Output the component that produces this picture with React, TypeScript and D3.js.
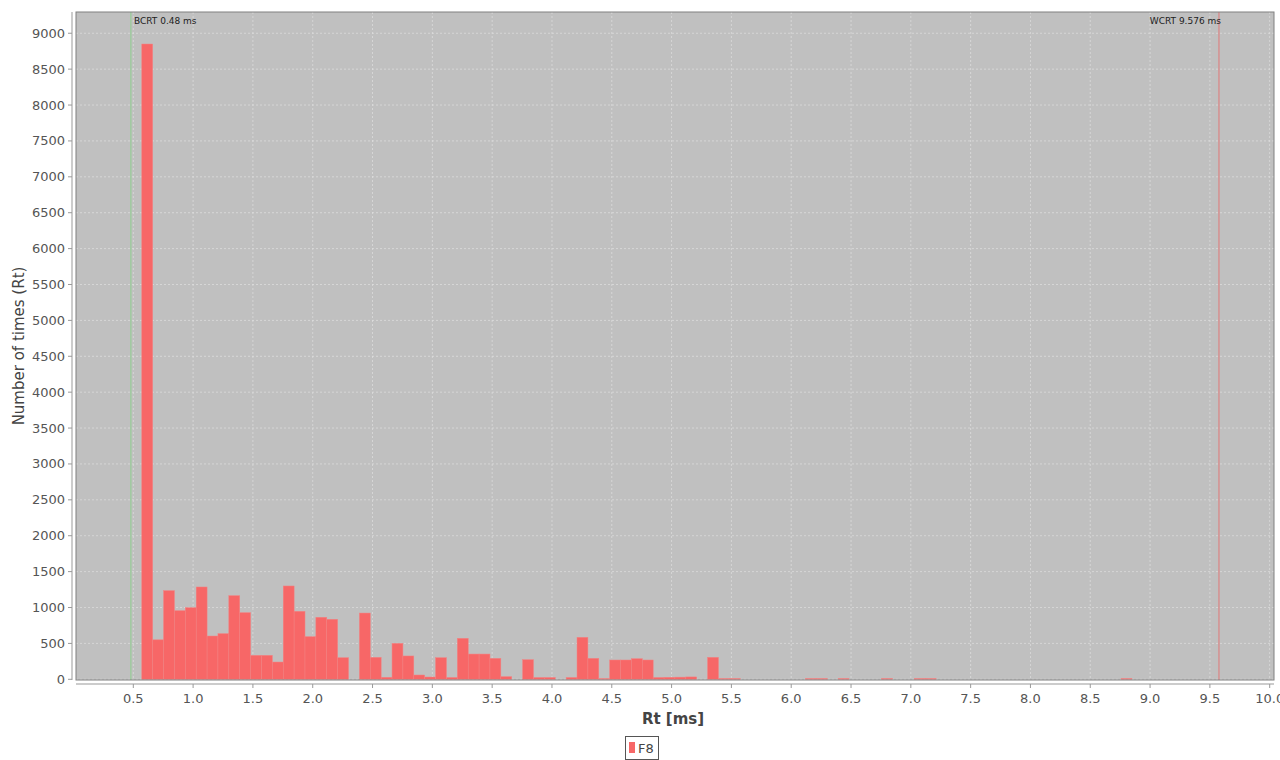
import React from 'react';
import * as d3 from 'd3';

// response time histogram, 100 bins between BCRT and WCRT
const bcrt = 0.48;
const wcrt = 9.576;
const counts = [
  0, 8850, 550, 1235, 956, 998, 1286, 603, 636, 1165,
  928, 334, 334, 241, 1300, 947, 594, 864, 836, 301,
  0, 923, 306, 28, 501, 325, 60, 32, 301, 25,
  571, 352, 352, 292, 37, 0, 273, 25, 25, 0,
  25, 585, 292, 6, 269, 269, 287, 269, 25, 28,
  30, 33, 0, 306, 4, 4, 0, 0, 0, 0,
  0, 0, 10, 10, 0, 8, 0, 0, 0, 8,
  0, 0, 10, 10, 0, 0, 0, 0, 0, 0,
  0, 0, 0, 0, 0, 0, 0, 0, 0, 0,
  0, 8, 0, 0, 0, 0, 0, 0, 0, 0,
];
const xTicks = [0.5, 1, 1.5, 2, 2.5, 3, 3.5, 4, 4.5, 5, 5.5, 6, 6.5, 7, 7.5, 8, 8.5, 9, 9.5, 10];
const yTicks = [0, 500, 1000, 1500, 2000, 2500, 3000, 3500, 4000, 4500, 5000, 5500, 6000, 6500, 7000, 7500, 8000, 8500, 9000];
const seriesName = 'F8';

const plot = { left: 76, right: 1274, top: 12, bottom: 680 };
const font = '"DejaVu Sans", sans-serif';

export default function App() {
  const x = d3.scaleLinear().domain([0.021, 10.036]).range([plot.left, plot.right]);
  const y = d3.scaleLinear().domain([0, 9296]).range([679.3, plot.top]);
  const binW = (wcrt - bcrt) / counts.length;

  return (
    <svg width={1280} height={760} style={{ position: 'absolute', left: 0, top: 0, background: '#fff' }}>
      <rect x={plot.left} y={plot.top} width={plot.right - plot.left} height={plot.bottom - plot.top} fill="#c0c0c0" />
      {/* grid */}
      {xTicks.map(t => (
        <line key={'gx' + t} x1={x(t)} x2={x(t)} y1={plot.top} y2={plot.bottom}
          stroke="#e0e0e0" strokeWidth={0.7} strokeDasharray="2,2" />
      ))}
      {yTicks.map(t => (
        <line key={'gy' + t} x1={plot.left} x2={plot.right} y1={y(t)} y2={y(t)}
          stroke="#e0e0e0" strokeWidth={0.7} strokeDasharray="2,2" />
      ))}
      {/* bars */}
      {counts.map((c, i) => {
        if (!c) return null;
        const x0 = x(bcrt + i * binW);
        const x1 = x(bcrt + (i + 1) * binW);
        const top = Math.min(y(c), y(0) - 0.8);
        return (
          <rect key={i} x={x0} y={top} width={x1 - x0} height={y(0) - top}
            fill="#f76767" stroke="#f48282" strokeWidth={0.5} />
        );
      })}
      {/* markers */}
      <line x1={x(bcrt)} x2={x(bcrt)} y1={plot.top} y2={plot.bottom} stroke="#90d090" strokeWidth={1} />
      <line x1={x(wcrt)} x2={x(wcrt)} y1={plot.top} y2={plot.bottom} stroke="#e07878" strokeWidth={1} />
      <text x={x(bcrt) + 3} y={24} fontFamily={font} fontSize={9} fill="#222">BCRT {bcrt} ms</text>
      <text x={x(wcrt) + 2} y={24} fontFamily={font} fontSize={9} fill="#222" textAnchor="end">WCRT {wcrt} ms</text>
      <rect x={plot.left} y={plot.top} width={plot.right - plot.left} height={plot.bottom - plot.top}
        fill="none" stroke="#808080" strokeWidth={1} />
      {/* y axis */}
      <line x1={72} x2={72} y1={plot.top} y2={plot.bottom} stroke="#999" />
      {yTicks.map(t => (
        <g key={'ty' + t}>
          <line x1={68} x2={72} y1={y(t)} y2={y(t)} stroke="#999" />
          <text x={65} y={y(t) + 4.5} textAnchor="end" fontFamily={font} fontSize={13} fill="#555">{t}</text>
        </g>
      ))}
      <text transform="translate(24,346) rotate(-90)" textAnchor="middle" fontFamily={font} fontSize={15} fill="#444">
        Number of times (Rt)
      </text>
      {/* x axis */}
      <line x1={plot.left} x2={plot.right} y1={684} y2={684} stroke="#999" />
      {xTicks.map(t => (
        <g key={'tx' + t}>
          <line x1={x(t)} x2={x(t)} y1={684} y2={688} stroke="#999" />
          <text x={x(t)} y={703} textAnchor="middle" fontFamily={font} fontSize={13} fill="#555">{t.toFixed(1)}</text>
        </g>
      ))}
      <text x={673} y={724} textAnchor="middle" fontFamily={font} fontSize={15} fontWeight="bold" fill="#444">Rt [ms]</text>
      {/* legend */}
      <rect x={625.5} y={736.5} width={33} height={23} fill="#fff" stroke="#555" />
      <rect x={629} y={742} width={6} height={11} fill="#f76767" />
      <text x={638} y={753} fontFamily={font} fontSize={13} fill="#444">{seriesName}</text>
    </svg>
  );
}
